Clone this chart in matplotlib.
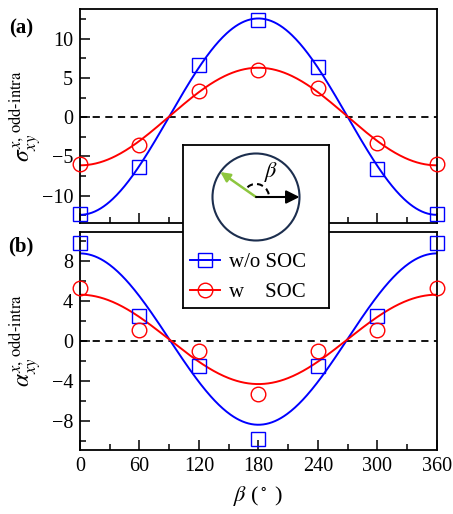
import matplotlib
matplotlib.use("Agg")
import matplotlib.pyplot as plt
import numpy as np
from matplotlib.lines import Line2D
from matplotlib.patches import Circle, Arc

plt.rcParams["font.family"] = ["Liberation Serif", "DejaVu Serif"]
plt.rcParams["mathtext.fontset"] = "stix"

# angles (deg) and values
beta = np.array([0, 60, 120, 180, 240, 300, 360])
sigma_wo = np.array([-12.3, -6.3, 6.7, 12.4, 6.4, -6.6, -12.3])
sigma_w = np.array([-5.9, -3.6, 3.4, 6.0, 3.7, -3.3, -5.9])
alpha_wo = np.array([9.8, 2.5, -2.5, -9.8, -2.5, 2.5, 9.8])
alpha_w = np.array([5.3, 1.1, -1.0, -5.3, -1.0, 1.1, 5.3])

BLUE = "#0000ff"
RED = "#ff0000"
GREEN = "#8dc63f"
NAVY = "#1c2e4e"


def cos_fit(x, y, xs):
    # least squares y = a*cos(beta) + c
    A = np.column_stack([np.cos(np.radians(x)), np.ones_like(x, float)])
    (a, c), *_ = np.linalg.lstsq(A, y, rcond=None)
    return a * np.cos(np.radians(xs)) + c


def style(ax, major, minor):
    ax.set_xlim(0, 360)
    ax.set_xticks(np.arange(0, 361, 60))
    ax.set_xticks(np.arange(30, 361, 60), minor=True)
    ax.set_yticks(major)
    ax.set_yticks(minor, minor=True)
    ax.tick_params(which="both", direction="in", top=False, right=False, labelsize=14.5, width=1.1)
    ax.tick_params(which="major", length=7, pad=5)
    ax.tick_params(which="minor", length=4)
    for s in ax.spines.values():
        s.set_linewidth(1.3)
    ax.axhline(0, color="k", lw=1.3, ls=(0, (4, 3)), zorder=1)


fig = plt.figure(figsize=(4.53, 5.14), dpi=100)
ax_a = fig.add_axes([0.1766, 0.5667, 0.7874, 0.4158])
ax_b = fig.add_axes([0.1766, 0.1245, 0.7874, 0.4247])

xs = np.linspace(0, 360, 361)
for ax, wo, w in ((ax_a, sigma_wo, sigma_w), (ax_b, alpha_wo, alpha_w)):
    ax.plot(xs, cos_fit(beta, wo, xs), color=BLUE, lw=1.4, zorder=2)
    ax.plot(xs, cos_fit(beta, w, xs), color=RED, lw=1.4, zorder=2)
    ax.plot(beta, wo, ls="none", marker="s", ms=10.5, mfc="none", mec=BLUE, mew=1.0, clip_on=False, zorder=3)
    ax.plot(beta, w, ls="none", marker="o", ms=10.5, mfc="none", mec=RED, mew=1.0, clip_on=False, zorder=3)

style(ax_a, [-10, -5, 0, 5, 10], np.arange(-12.5, 13, 2.5))
ax_a.set_ylim(-13.45, 13.8)
ax_a.tick_params(labelbottom=False)
ax_a.set_yticklabels(["\u221210", "\u22125", "0", "5", "10"])

style(ax_b, [-8, -4, 0, 4, 8], np.arange(-10, 11, 2))
ax_b.set_ylim(-10.9, 10.9)
ax_b.set_yticklabels(["\u22128", "\u22124", "0", "4", "8"])

ax_a.set_ylabel(r"$\sigma_{xy}^{x,\,\mathrm{odd\text{-}intra}}$", fontsize=17)
ax_b.set_ylabel(r"$\alpha_{xy}^{x,\,\mathrm{odd\text{-}intra}}$", fontsize=17)
ax_a.yaxis.set_label_coords(-0.1, 0.5)
ax_b.yaxis.set_label_coords(-0.1, 0.5)
ax_b.set_xlabel(r"$\beta$ ($^\circ$ )", fontsize=16, labelpad=6)

fig.text(0.047, 0.945, "(a)", fontsize=15, fontweight="bold", ha="center", va="center")
fig.text(0.047, 0.521, "(b)", fontsize=15, fontweight="bold", ha="center", va="center")

# inset box with the angle sketch and legend (pixel-like units)
ax_in = fig.add_axes([183 / 453, 1 - 308 / 514, 146 / 453, 163 / 514])
ax_in.set_xlim(0, 146)
ax_in.set_ylim(0, 163)
ax_in.set_xticks([])
ax_in.set_yticks([])
for s in ax_in.spines.values():
    s.set_linewidth(1.3)
cx, cy, r = 73, 111, 43.5
ax_in.add_patch(Circle((cx, cy), r, fill=False, ec=NAVY, lw=1.5))
ax_in.add_patch(Arc((cx, cy), 26, 26, theta1=12, theta2=146, color="k", lw=1.5, ls=(0, (3, 2))))
ang = np.radians(145)
ax_in.annotate("", xy=(cx + r * np.cos(ang), cy + r * np.sin(ang)), xytext=(cx, cy),
               arrowprops=dict(arrowstyle="-|>", color=GREEN, lw=1.8, mutation_scale=14, shrinkA=0, shrinkB=0))
ax_in.annotate("", xy=(cx + r, cy), xytext=(cx, cy),
               arrowprops=dict(arrowstyle="-|>", color="k", lw=1.5, mutation_scale=20, shrinkA=0, shrinkB=0))
ax_in.text(88, 136, r"$\beta$", fontsize=16, ha="center", va="center")

handles = [
    Line2D([], [], color=BLUE, lw=1.4, marker="s", ms=10.5, mfc="none", mew=1.0),
    Line2D([], [], color=RED, lw=1.4, marker="o", ms=10.5, mfc="none", mew=1.0),
]
ax_in.legend(handles, ["w/o SOC", "w    SOC"], loc="lower left", bbox_to_anchor=(0.045, 0.035),
             frameon=False, fontsize=15, handlelength=1.45, handletextpad=0.45,
             labelspacing=0.5, borderpad=0, borderaxespad=0)

fig.savefig("out.png", dpi=100)
